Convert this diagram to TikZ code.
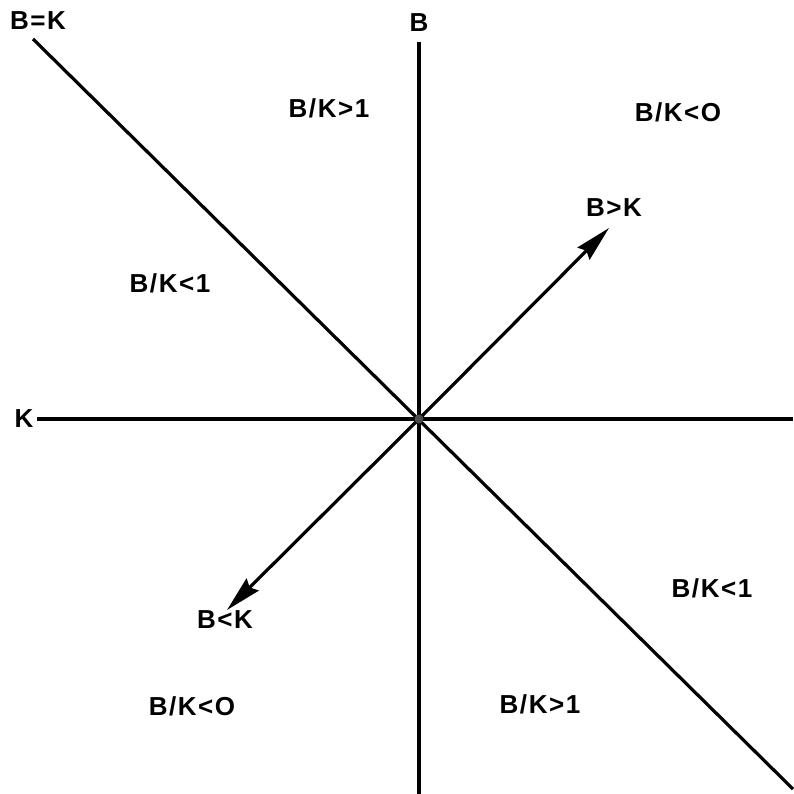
\documentclass[tikz,border=0pt]{standalone}
\usepackage{fontspec}
\setmainfont{Liberation Sans}
\usetikzlibrary{arrows.meta}
\begin{document}
\begin{tikzpicture}[x=1pt, y=-1pt,
    lbl/.style={font=\bfseries\fontsize{26}{26}\selectfont\addfontfeature{LetterSpace=6}, inner sep=1pt},
    axis/.style={line width=3.2pt},
    ray/.style={line width=3.2pt, -{Stealth[length=36pt, width=17pt, inset=4pt]}}]
    \useasboundingbox (0,0) rectangle (793,794);

    % Origin
    \coordinate (O) at (419,419);

    % Axes
    \node[lbl] (B) at (419,23) {B};
    \node[lbl] (K) at (24,419) {K};
    \coordinate (Btop) at (419,42);
    \coordinate (Bbot) at (419,794);
    \coordinate (Kleft) at (37,419);
    \coordinate (Kright) at (793,419);
    \draw[axis] (Btop) -- (Bbot);
    \draw[axis] (Kleft) -- (Kright);

    % The line B=K
    \node[lbl] (BeqK) at (38,21) {B=K};
    \coordinate (Dtop) at (33,39);
    \coordinate (Dbot) at (793,789);
    \draw[axis] (Dtop) -- (Dbot);

    % Directions
    \node[lbl] (Bgt) at (614,208) {B>K};
    \node[lbl] (Blt) at (225,620) {B<K};
    \coordinate (Tgt) at (609,228);
    \coordinate (Tlt) at (227,610);
    \draw[ray] (O) -- (Tgt);
    \draw[ray] (O) -- (Tlt);
    \fill[black!70] (O) circle (4.5);

    % Regions
    \node[lbl] (r1) at (329,108) {B/K>1};
    \node[lbl] (r2) at (678,112) {B/K<O};
    \node[lbl] (r3) at (170,283) {B/K<1};
    \node[lbl] (r4) at (712,588) {B/K<1};
    \node[lbl] (r5) at (192,706) {B/K<O};
    \node[lbl] (r6) at (540,704) {B/K>1};
\end{tikzpicture}
\end{document}
